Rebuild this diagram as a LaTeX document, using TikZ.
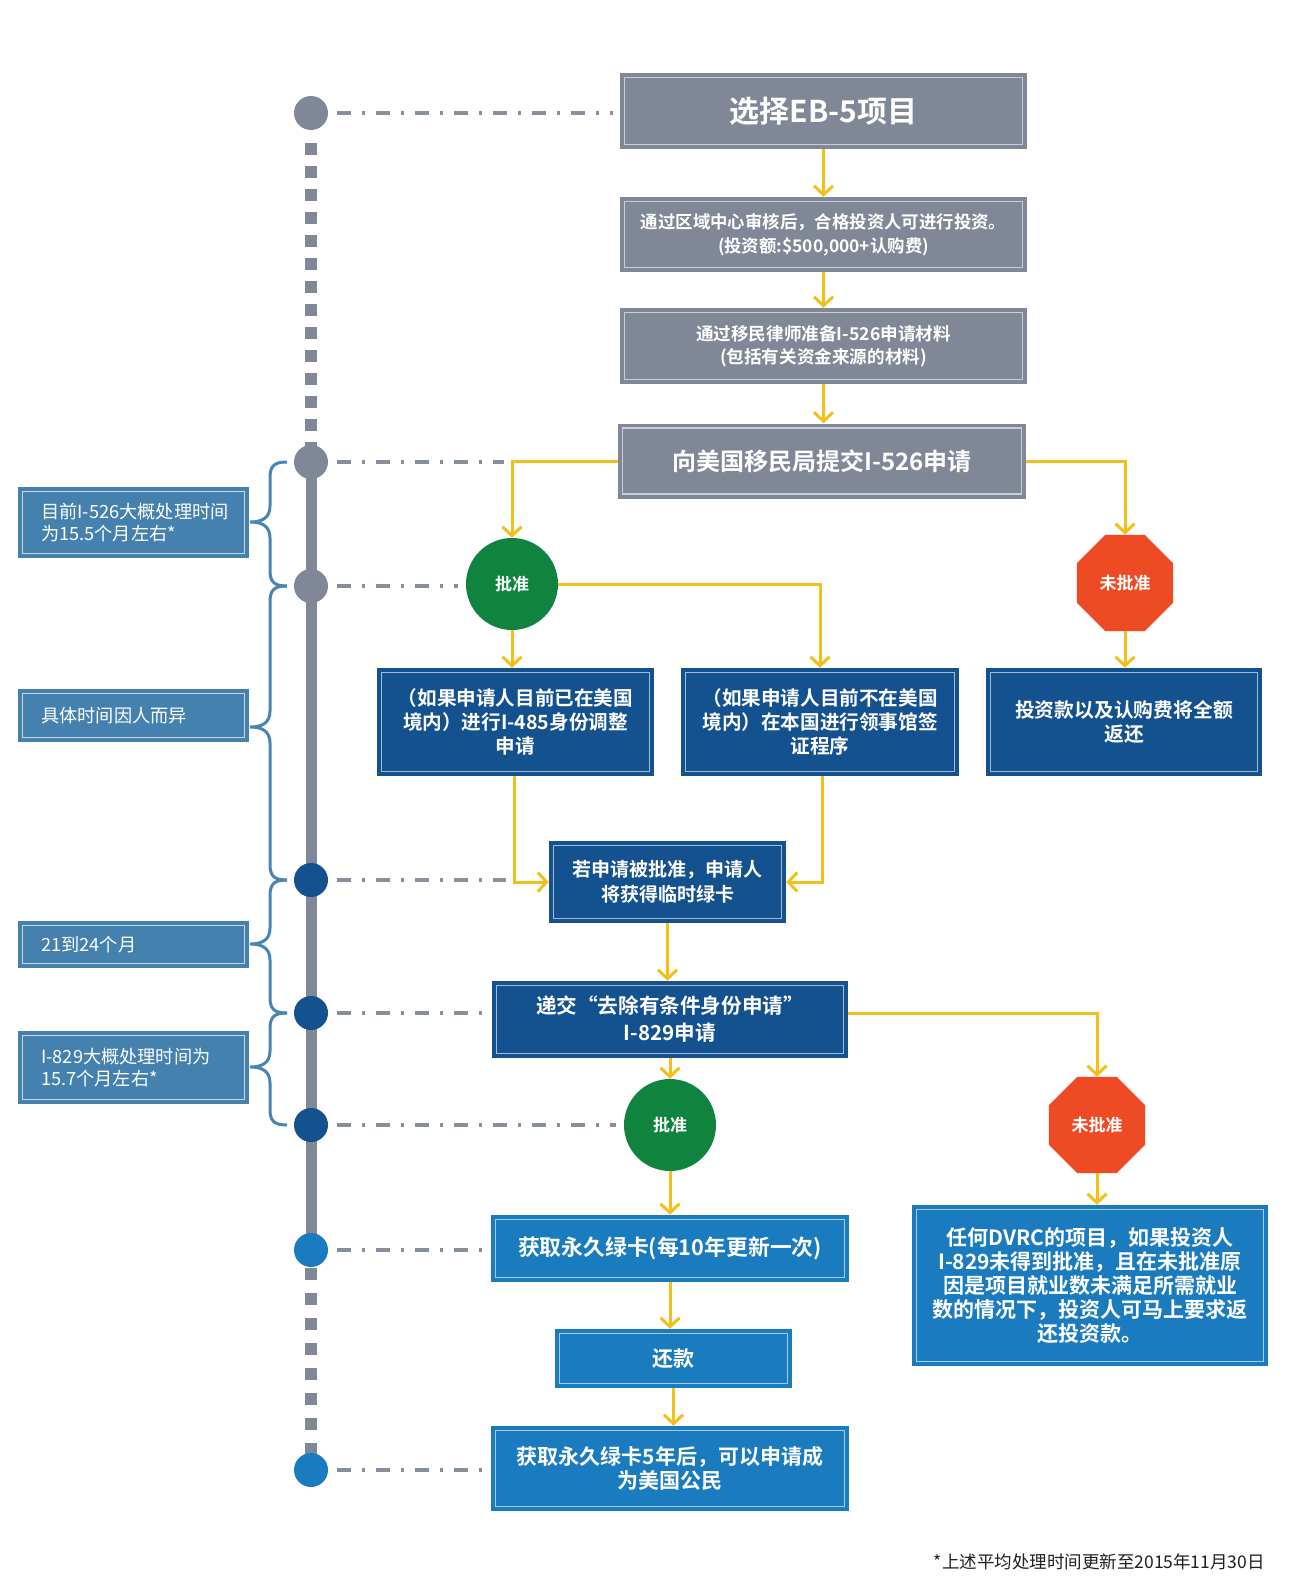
\documentclass[tikz,border=0pt]{standalone}
\usepackage{fontspec}
\setmainfont{Noto Sans CJK SC}[BoldFont={Noto Sans CJK SC Bold}]
\usetikzlibrary{shapes.geometric,arrows.meta,calc}
\definecolor{cgray}{HTML}{808898}
\definecolor{cgrayline}{HTML}{C9CDD6}
\definecolor{cdark}{HTML}{14518F}
\definecolor{cdarkline}{HTML}{A3BAD8}
\definecolor{cmid}{HTML}{1A7BBF}
\definecolor{cmidline}{HTML}{A6CBE8}
\definecolor{csteel}{HTML}{4581AE}
\definecolor{csteelline}{HTML}{C6D8E9}
\definecolor{cbrace}{HTML}{4785B5}
\definecolor{cgreen}{HTML}{10843F}
\definecolor{cred}{HTML}{EE4B25}
\definecolor{cyellow}{HTML}{F3C01B}
\definecolor{cdash}{HTML}{878E9C}
\definecolor{cfoot}{HTML}{231F20}
\tikzset{
  framed/.style={path picture={\draw[line width=1.2pt,#1]
     ([shift={(4.5pt,-4.5pt)}]path picture bounding box.north west) rectangle
     ([shift={(-4.5pt,4.5pt)}]path picture bounding box.south east);}},
  bx/.style={rectangle, inner sep=0pt, text=white, align=center},
  graybox/.style={bx, fill=cgray, framed=cgrayline},
  darkbox/.style={bx, fill=cdark, framed=cdarkline},
  midbox/.style={bx, fill=cmid, framed=cmidline},
  labbox/.style={bx, fill=csteel, framed=csteelline},
  bf/.style 2 args={font=\bfseries\fontsize{#1}{#2}\selectfont},
  rg/.style 2 args={font=\fontsize{#1}{#2}\selectfont},
  yarrow/.style={draw=cyellow, line width=3pt, -{Straight Barb[length=9pt,width=19pt]}},
  dashdot/.style={draw=cdash, line width=3.5pt, dash pattern=on 14pt off 11pt on 3pt off 11pt},
  squares/.style={draw=cgray, line width=12pt},
  tdot/.style={circle, inner sep=0pt, minimum size=34pt},
  okcircle/.style={circle, inner sep=0pt, minimum size=92pt, fill=cgreen, text=white},
  nocircle/.style={regular polygon, regular polygon sides=8, inner sep=0pt, minimum size=104pt, fill=cred, text=white},
  brc/.style={draw=cbrace, line width=3pt},
}
\newcommand\tlbrace[3]{%
  \draw[brc] (287,#1) .. controls (274,#1) and (270,#1+4) .. (270,#1+16)
    -- (270,#2-16) .. controls (270,#2-4) and (262,#2) .. (250,#2)
    .. controls (262,#2) and (270,#2+4) .. (270,#2+16)
    -- (270,#3-16) .. controls (270,#3-4) and (274,#3) .. (287,#3);}
\begin{document}
\begin{tikzpicture}[x=1pt,y=-1pt]
\useasboundingbox[fill=white] (0,0) rectangle (1294,1590);

% timeline dots (positions)
\coordinate (tl1) at (311,143);
\coordinate (tl2) at (311,1268);
\node[tdot] (d1) at (311,113) {};
\node[tdot] (d2) at (311,462) {};
\node[tdot] (d3) at (311,586) {};
\node[tdot] (d4) at (311,880) {};
\node[tdot] (d5) at (311,1013) {};
\node[tdot] (d6) at (311,1125) {};
\node[tdot] (d7) at (311,1250) {};
\node[tdot] (d8) at (311,1470) {};

% timeline lines
\draw[squares, dash pattern=on 12pt off 11pt] (tl1) -- (d2.center);
\draw[squares, dash pattern=on 12pt off 13pt] (tl2) -- (d8.center);
\draw[draw=cgray, line width=11pt] (d2.center) -- (d7.center);

% boxes
\node[graybox, minimum width=407pt, minimum height=76pt, bf={30}{36}] (b1) at (823.5,111) {选择EB-5项目};
\node[graybox, minimum width=407pt, minimum height=75pt, bf={17.4}{24}] (b2) at (823.5,234.5) {通过区域中心审核后，合格投资人可进行投资。\\(投资额:\$500,000+认购费)};
\node[graybox, minimum width=407pt, minimum height=76pt, bf={17.6}{23}] (b3) at (823.5,346) {通过移民律师准备I-526申请材料\\(包括有关资金来源的材料)};
\node[graybox, minimum width=408pt, minimum height=75pt, bf={24}{30}] (b4) at (822,461) {向美国移民局提交I-526申请};

\node[okcircle, bf={17}{20}] (g1) at (512,584) {批准};
\node[nocircle, bf={17}{20}] (r1) at (1125,583) {未批准};

\node[darkbox, minimum width=277pt, minimum height=108pt, bf={19.6}{24}] (l) at (515.5,722) {（如果申请人目前已在美国\\境内）进行I-485身份调整\\申请};
\node[darkbox, minimum width=278pt, minimum height=108pt, bf={19.6}{24}] (m) at (820,722) {（如果申请人目前不在美国\\境内）在本国进行领事馆签\\证程序};
\node[darkbox, minimum width=276pt, minimum height=108pt, bf={19.8}{24}] (rr) at (1124,722) {投资款以及认购费将全额\\返还};

\node[darkbox, minimum width=237pt, minimum height=82pt, bf={19}{25}] (ruo) at (667.5,882) {若申请被批准，申请人\\将获得临时绿卡};
\node[darkbox, minimum width=356pt, minimum height=77pt, bf={20.6}{27}] (dj) at (670,1019.5) {递交“去除有条件身份申请”\\I-829申请};

\node[okcircle, bf={17}{20}] (g2) at (670,1125) {批准};
\node[nocircle, bf={17}{20}] (r2) at (1097,1125) {未批准};

\node[midbox, minimum width=356pt, minimum height=161pt, bf={21}{24}] (dv) at (1090,1285.5) {任何DVRC的项目，如果投资人\\I-829未得到批准，且在未批准原\\因是项目就业数未满足所需就业\\数的情况下，投资人可马上要求返\\还投资款。};
\node[midbox, minimum width=358pt, minimum height=67pt, bf={21.8}{26}] (pg) at (670,1248.5) {获取永久绿卡(每10年更新一次)};
\node[midbox, minimum width=237pt, minimum height=59pt, bf={21}{26}] (hk) at (673.5,1358.5) {还款};
\node[midbox, minimum width=358pt, minimum height=85pt, bf={21}{24}] (gm) at (670,1468.5) {获取永久绿卡5年后，可以申请成\\为美国公民};

% left labels
\node[labbox, minimum width=231pt, minimum height=71pt] (lb1) at (133.5,522.5) {};
\node[labbox, minimum width=231pt, minimum height=53pt] (lb2) at (133.5,715.5) {};
\node[labbox, minimum width=231pt, minimum height=47pt] (lb3) at (133.5,944.5) {};
\node[labbox, minimum width=231pt, minimum height=73pt] (lb4) at (133.5,1067.5) {};
\node[anchor=west, inner sep=0pt, text=white, align=left, rg={18.2}{21.5}] (lt1) at (41,522.5) {目前I-526大概处理时间\\为15.5个月左右*};
\node[anchor=west, inner sep=0pt, text=white, align=left, rg={18.2}{21.5}] (lt2) at (41,715.5) {具体时间因人而异};
\node[anchor=west, inner sep=0pt, text=white, align=left, rg={18.2}{21.5}] (lt3) at (41,944.5) {21到24个月};
\node[anchor=west, inner sep=0pt, text=white, align=left, rg={18.2}{21.5}] (lt4) at (41,1067.5) {I-829大概处理时间为\\15.7个月左右*};

% braces
\tlbrace{462}{522}{586}
\tlbrace{586}{727}{880}
\tlbrace{880}{944}{1013}
\tlbrace{1013}{1067}{1125}

% dash-dot connectors
\draw[dashdot] ($(d1.east)+(9,0)$) -- ($(b1.west |- d1)+(-7,0)$);
\draw[dashdot] ($(d2.east)+(9,0)$) -- ($(g1.north |- d2)+(-8,0)$);
\draw[dashdot] ($(d3.east)+(9,0)$) -- ($(g1.west |- d3)+(-8,0)$);
\draw[dashdot] ($(d4.east)+(9,0)$) -- ($(l.south |- d4)+(-10,0)$);
\draw[dashdot] ($(d5.east)+(9,0)$) -- ($(dj.west |- d5)+(-6,0)$);
\draw[dashdot] ($(d6.east)+(9,0)$) -- ($(g2.west)+(-8,0)$);
\draw[dashdot] ($(d7.east)+(9,0)$) -- ($(pg.west |- d7)+(-6,0)$);
\draw[dashdot] ($(d8.east)+(9,0)$) -- ($(gm.west |- d8)+(-6,0)$);

% dots drawn on top
\fill[cgray] (d1) circle (17);
\fill[cgray] (d2) circle (17);
\fill[cgray] (d3) circle (17);
\fill[cdark] (d4) circle (17);
\fill[cdark] (d5) circle (17);
\fill[cdark] (d6) circle (17);
\fill[cmid] (d7) circle (17);
\fill[cmid] (d8) circle (17);

% yellow arrows
\draw[yarrow] (b1.south) -- (b1.south |- b2.north);
\draw[yarrow] (b2.south) -- (b2.south |- b3.north);
\draw[yarrow] (b3.south) -- (b3.south |- b4.north);
\draw[yarrow] (b4.west) -| (g1.north);
\draw[yarrow] (b4.east) -| (r1.north);
\draw[yarrow] (g1.east) -| (m.north);
\draw[yarrow] (g1.south) -- (g1.south |- l.north);
\draw[yarrow] (r1.south) -- (r1.south |- rr.north);
\draw[yarrow] ($(l.south)+(-1.5,0)$) |- (ruo.west);
\draw[yarrow] ($(m.south)+(2,0)$) |- (ruo.east);
\draw[yarrow] (ruo.south) -- (ruo.south |- dj.north);
\draw[yarrow] (dj.east |- d5) -| (r2.north);
\draw[yarrow] (dj.south) -- (g2.north);
\draw[yarrow] (r2.south) -- (r2.south |- dv.north);
\draw[yarrow] (g2.south) -- (pg.north);
\draw[yarrow] (pg.south) -- (pg.south |- hk.north);
\draw[yarrow] (hk.south) -- (hk.south |- gm.north);

% footnote
\node[anchor=east, inner sep=0pt, text=cfoot, rg={17.5}{21}] (fn) at (1265,1562) {*上述平均处理时间更新至2015年11月30日};
\end{tikzpicture}
\end{document}
